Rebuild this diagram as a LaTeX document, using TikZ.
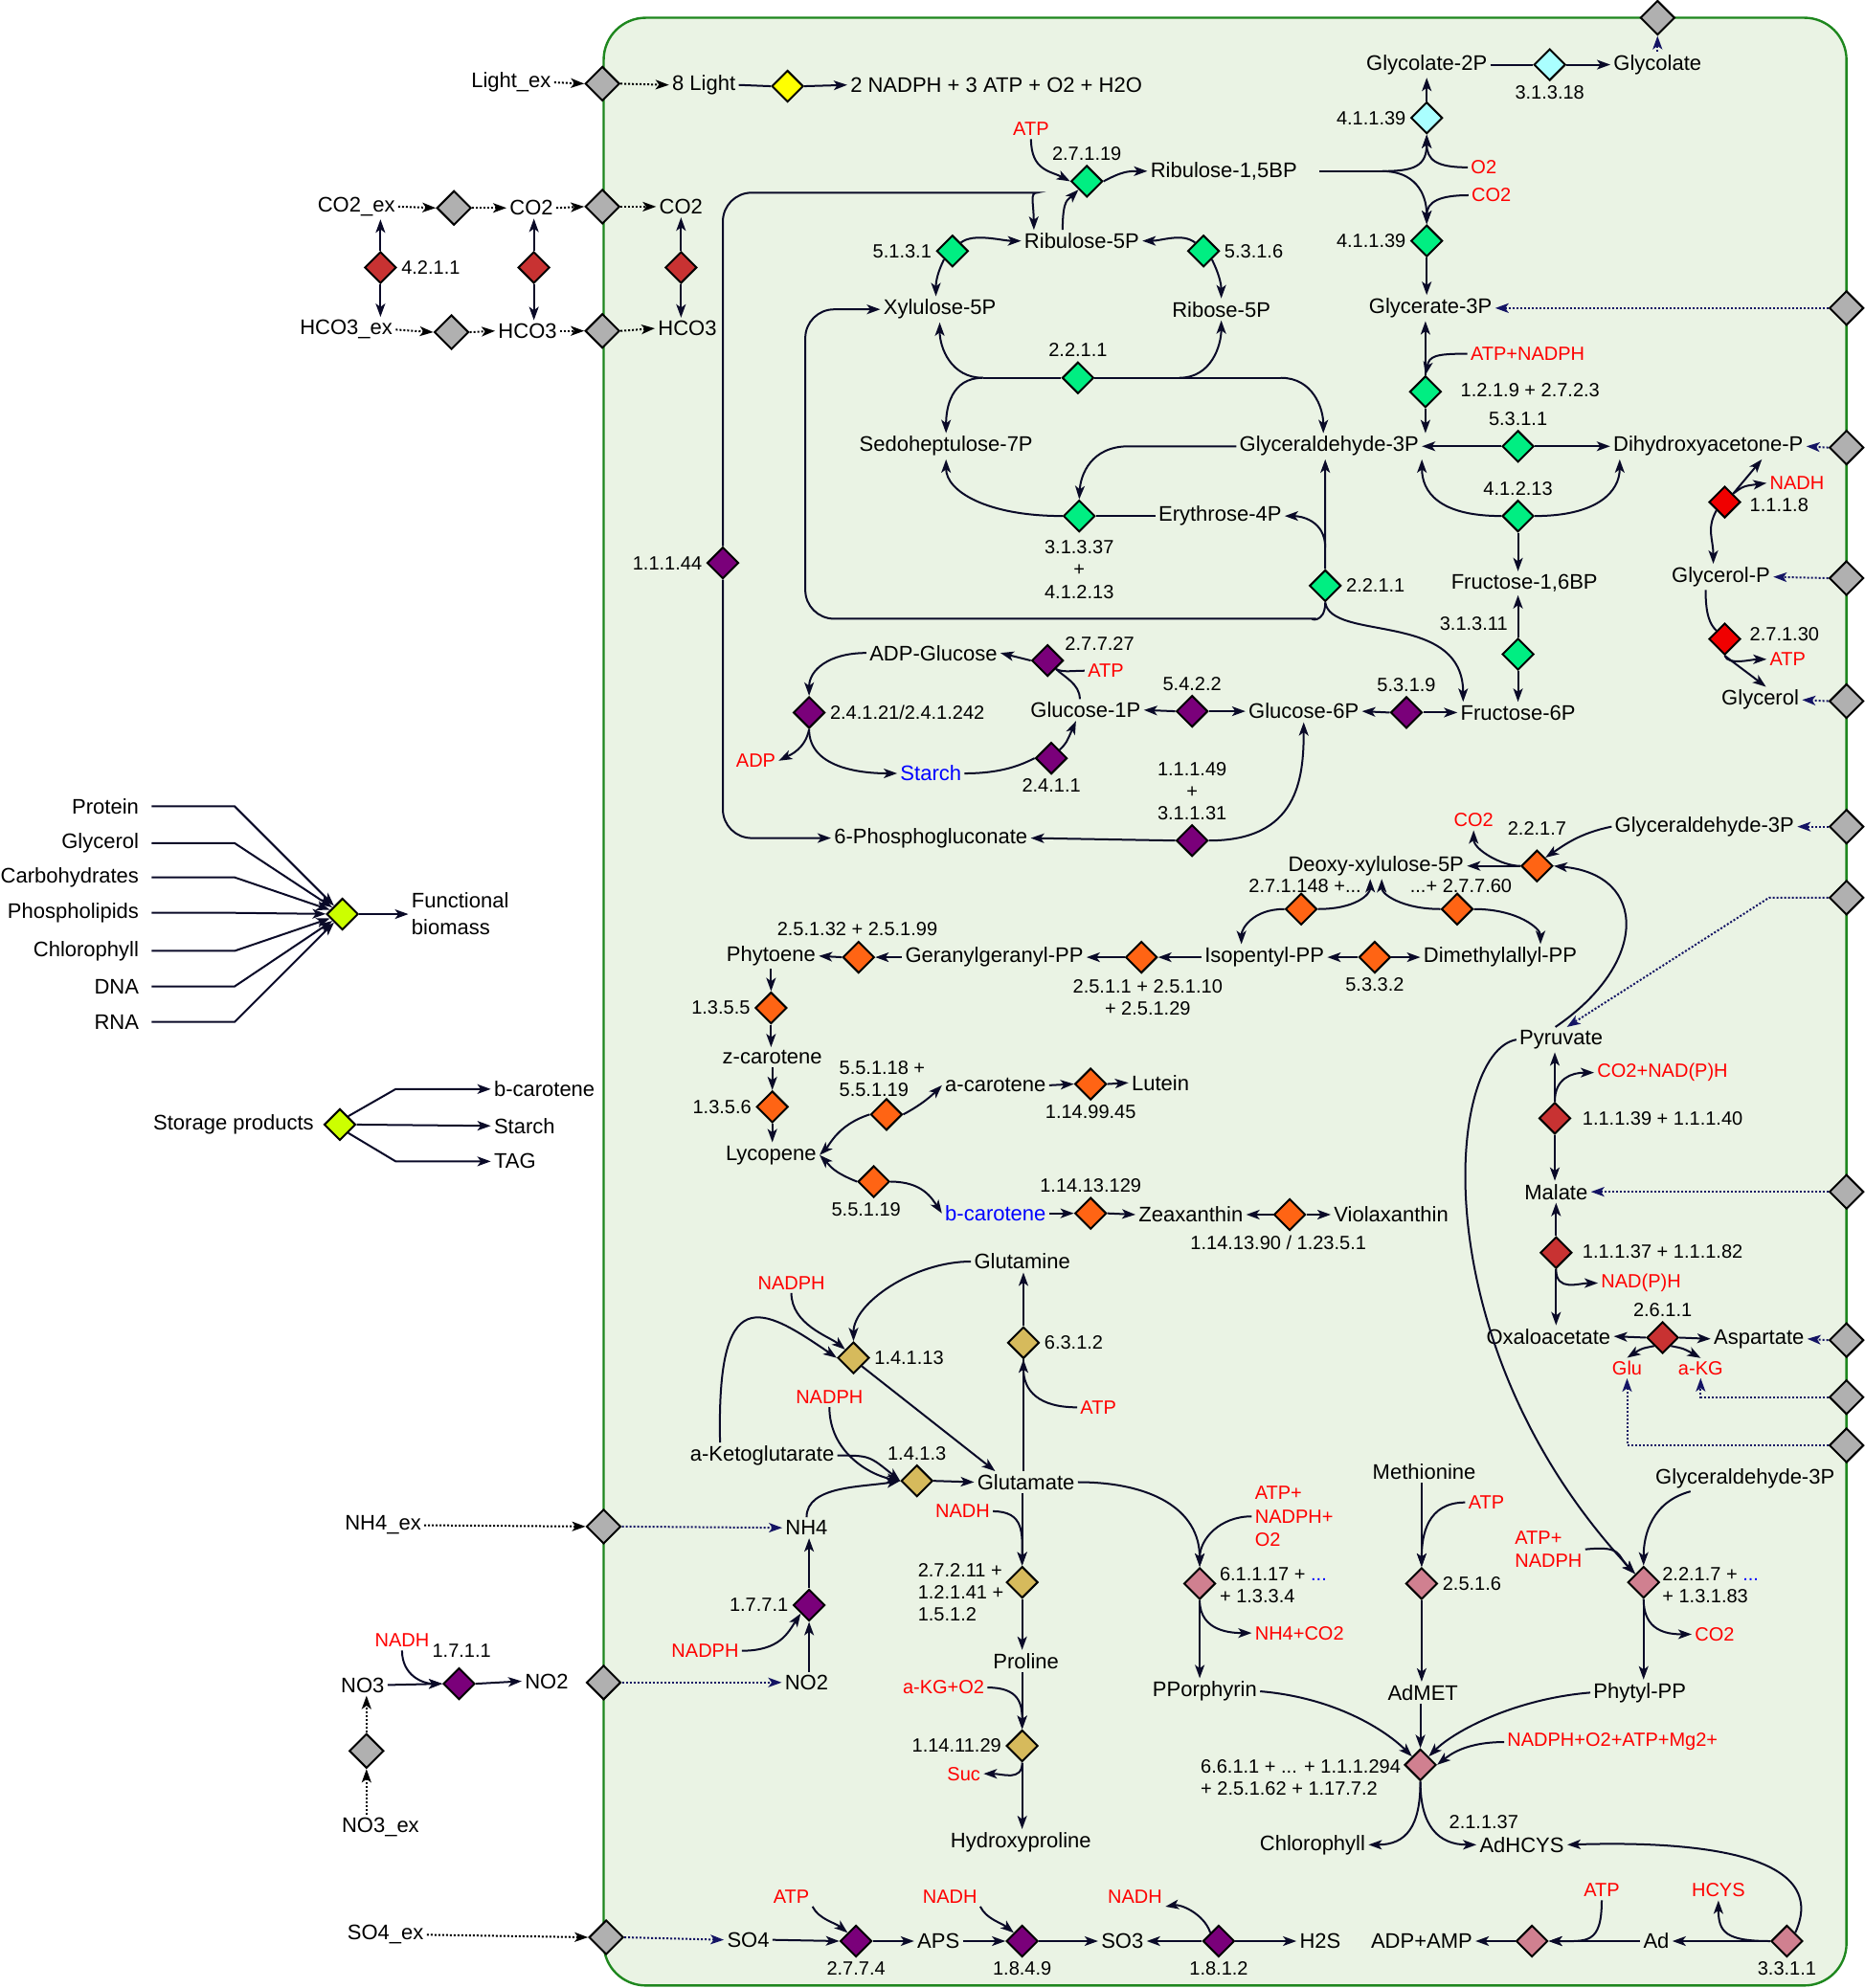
\documentclass[tikz,border=0pt]{standalone}
\usepackage{fontspec}
\setmainfont{Liberation Sans}
\usetikzlibrary{shapes.geometric, arrows.meta, positioning}

\definecolor{boxgreen}{RGB}{30,135,30}
\definecolor{boxfill}{RGB}{234,243,228}
\definecolor{exgray}{RGB}{176,176,176}
\definecolor{lightyel}{RGB}{255,255,0}
\definecolor{carbred}{RGB}{200,50,50}
\definecolor{glyred}{RGB}{240,0,0}
\definecolor{rubcyan}{RGB}{170,255,255}
\definecolor{calvgreen}{RGB}{0,238,130}
\definecolor{starchpur}{RGB}{122,0,122}
\definecolor{isoorange}{RGB}{255,100,20}
\definecolor{nitrotan}{RGB}{214,186,92}
\definecolor{porpink}{RGB}{208,128,144}
\definecolor{biolime}{RGB}{204,255,0}
\definecolor{cofred}{RGB}{255,0,0}
\definecolor{stoblue}{RGB}{0,0,255}
\definecolor{dotblue}{RGB}{20,20,100}
\definecolor{lineblk}{RGB}{10,10,40}

\newcommand{\metfont}{\fontsize{11}{13}\selectfont}
\newcommand{\ecfont}{\fontsize{10}{11.5}\selectfont}

\tikzset{
  met/.style={inner sep=1.5pt, font=\metfont},
  cof/.style={inner sep=1.5pt, text=cofred, font=\ecfont, align=left},
  ec/.style={inner sep=1pt, font=\ecfont, align=center},
  rxn/.style={diamond, draw=black, line width=1pt, fill=#1, inner sep=0pt, minimum width=16.5pt, minimum height=16.5pt},
  exch/.style={rxn=exgray, minimum width=18pt, minimum height=18pt},
  link/.style={line width=1pt, draw=lineblk},
  flux/.style={link, -{Stealth[length=7pt,width=5pt,inset=1.8pt]}},
  trans/.style={line width=1pt, draw=dotblue, densely dotted, -{Stealth[length=7pt,width=5pt,inset=1.8pt]}},
  uptake/.style={trans, draw=black},
}

\begin{document}
\begin{tikzpicture}[x=0.6622pt, y=-0.6622pt]
\useasboundingbox (0,0) rectangle (1470,1568);
% chloroplast compartment
\draw[draw=boxgreen, fill=boxfill, line width=1.2pt, rounded corners=22pt] (476,14) rectangle (1456,1566);

% light reactions
\node[met, anchor=east] (Lightex) at (437,65) {Light\_ex};
\node[exch] (xLight) at (475,66) {};
\node[met] (Light) at (555,67) {8 Light};
\node[rxn=lightyel] (dPS) at (621,68) {};
\node[met, anchor=west] (PSprod) at (668,67) {2 NADPH + 3 ATP + O2 + H2O};
\draw[uptake] (Lightex.east) -- (xLight.west);
\draw[uptake] (xLight.east) -- (Light.west);
\draw[link] (Light.east) -- (dPS.west);
\draw[flux] (dPS.east) -- (PSprod.west);

% carbon uptake
\node[met] (CO2ex) at (281,163) {CO2\_ex};
\node[exch] (xCO2a) at (358,164) {};
\node[met] (CO2c) at (419,164) {CO2};
\node[exch] (xCO2b) at (475,163) {};
\node[met] (CO2p) at (537,163) {CO2};
\node[met] (HCOex) at (273,260) {HCO3\_ex};
\node[exch] (xHCOa) at (356,262) {};
\node[met] (HCOc) at (416,261) {HCO3};
\node[exch] (xHCOb) at (475,261) {};
\node[met] (HCOp) at (542,259) {HCO3};
\node[rxn=carbred] (dCAa) at (300,211) {};
\node[ec, right=1pt of dCAa] {4.2.1.1};
\node[rxn=carbred] (dCAb) at (421,211) {};
\node[rxn=carbred] (dCAc) at (537,211) {};
\draw[uptake] (CO2ex.east) -- (xCO2a.west);
\draw[uptake] (xCO2a.east) -- (CO2c.west);
\draw[uptake] (CO2c.east) -- (xCO2b.west);
\draw[uptake] (xCO2b.east) -- (CO2p.west);
\draw[uptake] (HCOex.east) -- (xHCOa.west);
\draw[uptake] (xHCOa.east) -- (HCOc.west);
\draw[uptake] (HCOc.east) -- (xHCOb.west);
\draw[uptake] (xHCOb.east) -- (HCOp.west);
\foreach \d/\a/\b in {dCAa/CO2ex/HCOex, dCAb/CO2c/HCOc, dCAc/CO2p/HCOp} {
  \draw[flux] (\d.north) -- (\d |- \a.south);
  \draw[flux] (\d.south) -- (\d |- \b.north);
}

% photorespiration and carboxylation
\node[met] (G2P) at (1125,51) {Glycolate-2P};
\node[rxn=rubcyan] (dPGP) at (1222,51) {};
\node[ec, below=1pt of dPGP] {3.1.3.18};
\node[met] (Glyc) at (1307,51) {Glycolate};
\node[exch] (xGlyc) at (1307,14) {};
\draw[link] (G2P.east) -- (dPGP.west);
\draw[flux] (dPGP.east) -- (Glyc.west);
\draw[trans] (Glyc.north) -- (xGlyc.south);
\node[rxn=rubcyan] (dRBO) at (1125,93) {};
\node[ec, left=1pt of dRBO] {4.1.1.39};
\node[cof] (O2a) at (1170,132) {O2};
\node[met] (RuBP) at (965,135) {Ribulose-1,5BP};
\coordinate (rbSplit) at (1090,135);
\node[cof] (CO2a) at (1176,154) {CO2};
\node[rxn=calvgreen] (dRBC) at (1125,190) {};
\node[ec, left=1pt of dRBC] {4.1.1.39};
\node[met] (G3Pa) at (1128,243) {Glycerate-3P};
\node[exch] (xG3Pa) at (1456,243) {};
\draw[flux] (dRBO.north) -- (dRBO |- G2P.south);
\draw[link] ([xshift=10pt]RuBP.east) -- (rbSplit);
\draw[flux] (rbSplit) .. controls +(25,0) and +(0,25) .. (dRBO.south);
\draw[flux] (rbSplit) .. controls +(25,0) and +(0,-25) .. (dRBC.north);
\draw[flux] (O2a.west) .. controls +(-25,0) and +(0,20) .. (dRBO.south);
\draw[flux] (CO2a.west) .. controls +(-22,0) and +(0,-18) .. (dRBC.north);
\draw[flux] (dRBC.south) -- (dRBC |- G3Pa.north);
\draw[trans] (xG3Pa.west) -- (G3Pa.east);

% reduction phase
\node[rxn=calvgreen] (dGAPDH) at (1124,309) {};
\node[ec, anchor=west] at (1150,308) {1.2.1.9 + 2.7.2.3};
\node[cof, anchor=west] (cofGAPDH) at (1157,279) {ATP+NADPH};
\node[met] (GAP) at (1048,352) {Glyceraldehyde-3P};
\draw[flux] (dGAPDH.north) -- (dGAPDH |- G3Pa.south);
\draw[flux] (dGAPDH.south) -- (dGAPDH |- GAP.north);
\draw[flux] (cofGAPDH.west) .. controls +(-25,0) and +(3,-15) .. (dGAPDH.north);
\node[rxn=calvgreen] (dTPI) at (1197,352) {};
\node[ec, above=1pt of dTPI] {5.3.1.1};
\node[met] (DHAP) at (1347,352) {Dihydroxyacetone-P};
\node[exch] (xDHAP) at (1456,353) {};
\draw[flux] (dTPI.west) -- (GAP.east);
\draw[flux] (dTPI.east) -- (DHAP.west);
\draw[trans] (xDHAP.west) -- (DHAP.east);
\node[rxn=calvgreen] (dALD) at (1197,407) {};
\node[ec, above=1pt of dALD] {4.1.2.13};
\node[met] (FBP) at (1202,460) {Fructose-1,6BP};
\draw[flux] (dALD.west) .. controls +(-50,0) and +(0,25) .. (GAP.south east);
\draw[flux] (dALD.east) .. controls +(50,0) and +(0,25) .. ([xshift=5pt]DHAP.south west);
\draw[flux] (dALD.south) -- (dALD |- FBP.north);
\node[rxn=calvgreen] (dFBP) at (1197,516) {};
\node[ec] at (1162,492) {3.1.3.11};
\node[met] (F6P) at (1197,562) {Fructose-6P};
\draw[flux] (dFBP.north) -- (dFBP |- FBP.south);
\draw[flux] (dFBP.south) -- (dFBP |- F6P.north);

% glycerol branch
\node[rxn=glyred] (dG3PDH) at (1360,396) {};
\node[ec, anchor=west] at (1378,398) {1.1.1.8};
\node[cof, anchor=west] (NADHg) at (1393,381) {NADH};
\node[met] (GolP) at (1357,455) {Glycerol-P};
\node[exch] (xGolP) at (1456,456) {};
\node[rxn=glyred] (dGK) at (1360,504) {};
\node[ec, anchor=west] at (1378,500) {2.7.1.30};
\node[cof, anchor=west] (ATPgk) at (1393,520) {ATP};
\node[met] (Glyl) at (1388,552) {Glycerol};
\node[exch] (xGlyl) at (1456,553) {};
\draw[flux] (dG3PDH.north east) -- ([xshift=28pt]DHAP.south);
\draw[flux] (dG3PDH.north east) .. controls +(8,-6) .. (NADHg.west);
\draw[flux] (dG3PDH.south west) .. controls +(-8,15) and +(0,-20) .. ([xshift=-4pt]GolP.north);
\draw[trans] (xGolP.west) -- (GolP.east);
\draw[link] ([xshift=-8pt]GolP.south) .. controls +(0,20) and +(-5,-5) .. (dGK.north west);
\draw[flux] (dGK.south) .. controls +(3,8) and +(-12,0) .. (ATPgk.west);
\draw[flux] (dGK.south) -- ([xshift=3pt]Glyl.north);
\draw[trans] (xGlyl.west) -- (Glyl.east);

% regeneration phase
\node[cof] (ATPa) at (813,102) {ATP};
\node[rxn=calvgreen] (dPRK) at (857,143) {};
\node[ec, above=1pt of dPRK] {2.7.1.19};
\node[met] (Ru5P) at (853,190) {Ribulose-5P};
\draw[flux] (ATPa.south) .. controls +(0,25) and +(-15,-8) .. (dPRK.west);
\draw[flux] ([xshift=-10pt]Ru5P.north) .. controls +(0,-25) and +(-8,8) .. (dPRK.south west);
\draw[flux] (dPRK.east) .. controls +(15,-8) and +(-15,0) .. (RuBP.west);
\node[rxn=calvgreen] (dRPE) at (751,198) {};
\node[ec, left=1pt of dRPE] {5.1.3.1};
\node[rxn=calvgreen] (dRPI) at (949,198) {};
\node[ec, right=1pt of dRPI] {5.3.1.6};
\node[met] (Xu5P) at (741,244) {Xylulose-5P};
\node[met] (R5P) at (963,244) {Ribose-5P};
\draw[flux] (dRPE.north east) .. controls +(10,-8) and +(-15,0) .. (Ru5P.west);
\draw[flux] (dRPE.south west) .. controls +(-5,10) and +(0,-12) .. ([xshift=-2pt]Xu5P.north);
\draw[flux] (dRPI.north west) .. controls +(-10,-8) and +(15,0) .. (Ru5P.east);
\draw[flux] (dRPI.south east) .. controls +(5,10) and +(0,-12) .. (R5P.north);
\node[rxn=calvgreen] (dTKa) at (850,298) {};
\node[ec, above=1pt of dTKa] {2.2.1.1};
\coordinate (tkL) at (775,298);
\coordinate (tkM) at (930,298);
\coordinate (tkR) at (1010,298);
\node[met] (S7P) at (746,352) {Sedoheptulose-7P};
\draw[link] (tkL) -- (dTKa.west);
\draw[link] (dTKa.east) -- (tkR);
\draw[flux] (tkL) .. controls +(-25,0) and +(0,20) .. (Xu5P.south);
\draw[flux] (tkL) .. controls +(-25,0) and +(0,-20) .. (S7P.north);
\draw[flux] (tkM) .. controls +(25,0) and +(0,20) .. (R5P.south);
\draw[flux] (tkR) .. controls +(25,0) and +(0,-20) .. ([xshift=-3pt]GAP.north);
\node[rxn=calvgreen] (dSBP) at (851,407) {};
\node[ec, below=3pt of dSBP] {3.1.3.37\\+\\4.1.2.13};
\node[met] (E4P) at (962,407) {Erythrose-4P};
\draw[flux] (GAP.west) -- (890,352) .. controls (860,352) and (852,375) .. (dSBP.north);
\draw[flux] (dSBP.west) .. controls +(-60,0) and +(0,25) .. (S7P.south);
\draw[link] (dSBP.east) -- (E4P.west);
\node[rxn=calvgreen] (dTKb) at (1045,462) {};
\node[ec, right=1pt of dTKb] {2.2.1.1};
\coordinate (tkUp) at (1045,432);
\draw[flux] (dTKb.north) -- ([xshift=-2pt]GAP.south);
\draw[flux] (tkUp) .. controls +(0,-22) and +(12,0) .. (E4P.east);
\draw[flux, rounded corners=15pt] (dTKb.south) .. controls +(0,18) and +(15,0) .. (1015,488) -| (635,300) |- (Xu5P.west);
\draw[flux] (dTKb.south) .. controls +(5,31) and +(0,-72) .. ([xshift=3pt]F6P.north west);

% oxidative shunt
\node[rxn=starchpur] (dOPP) at (570,444) {};
\node[ec, left=1pt of dOPP] {1.1.1.44};
\node[met] (PGlc) at (734,661) {6-Phosphogluconate};
\draw[flux, rounded corners=15pt] (dOPP.north) |- (795,152) .. controls (812,152) and (815,160) .. ([xshift=-25pt]Ru5P.north);
\draw[flux, rounded corners=15pt] (dOPP.south) |- (PGlc.west);

% starch metabolism
\node[met] (ADPG) at (736,515) {ADP-Glucose};
\node[rxn=starchpur] (dAGP) at (826,521) {};
\node[ec, anchor=west] at (838,508) {2.7.7.27};
\node[cof] (ATPagp) at (872,529) {ATP};
\node[met] (G1P) at (856,560) {Glucose-1P};
\node[rxn=starchpur] (dPGM) at (940,561) {};
\node[ec, above=1pt of dPGM] {5.4.2.2};
\node[met] (G6P) at (1028,561) {Glucose-6P};
\node[rxn=starchpur] (dPGI) at (1109,562) {};
\node[ec, above=1pt of dPGI] {5.3.1.9};
\node[rxn=starchpur] (dSS) at (638,562) {};
\node[ec, right=1pt of dSS] {2.4.1.21/2.4.1.242};
\node[cof] (ADP) at (596,600) {ADP};
\node[met, text=stoblue] (Starch) at (734,610) {Starch};
\node[rxn=starchpur] (dSP) at (829,598) {};
\node[ec, below=1pt of dSP] {2.4.1.1};
\node[rxn=starchpur] (dG6PDH) at (940,663) {};
\node[ec, above=1pt of dG6PDH] {1.1.1.49\\+\\3.1.1.31};
\draw[flux] (dAGP.west) -- (ADPG.east);
\draw[link] ([xshift=-3pt]G1P.north) .. controls +(0,-12) and +(6,6) .. (dAGP.south east);
\draw[link] (ATPagp.west) .. controls +(-10,0) and +(5,3) .. (dAGP.south east);
\draw[flux] (ADPG.west) .. controls +(-30,0) and +(0,-20) .. (dSS.north);
\draw[flux] (dSS.south) .. controls +(-3,15) and +(10,-5) .. (ADP.east);
\draw[flux] (dSS.south) .. controls +(0,30) and +(-30,0) .. (Starch.west);
\draw[link] (Starch.east) .. controls +(30,0) and +(-10,5) .. (dSP.west);
\draw[flux] (dSP.north east) .. controls +(5,-5) .. ([xshift=-5pt]G1P.south);
\draw[flux] (dPGM.west) -- (G1P.east);
\draw[flux] (dPGM.east) -- (G6P.west);
\draw[flux] (dPGI.west) -- (G6P.east);
\draw[flux] (dPGI.east) -- (F6P.west);
\draw[flux] (dG6PDH.west) -- (PGlc.east);
\draw[flux] (dG6PDH.east) .. controls +(70,0) and +(0,45) .. (G6P.south);

% MEP pathway and carotenoids
\node[met] (GAPb) at (1344,652) {Glyceraldehyde-3P};
\node[exch] (xGAPb) at (1456,652) {};
\node[rxn=isoorange] (dDXS) at (1212,683) {};
\node[ec, above=6pt of dDXS] {2.2.1.7};
\node[cof] (CO2dxs) at (1162,647) {CO2};
\node[met] (DXP) at (1085,683) {Deoxy-xylulose-5P};
\node[exch] (xPyr) at (1456,708) {};
\coordinate (pyBend) at (1395,708);
\node[met] (Pyr) at (1231,820) {Pyruvate};
\draw[trans] (xGAPb.west) -- (GAPb.east);
\draw[flux] (GAPb.west) .. controls +(-25,5) and +(15,-10) .. (dDXS.north east);
\draw[flux] (dDXS.west) -- (DXP.east);
\draw[flux] (dDXS.west) .. controls +(-15,0) and +(0,15) .. (CO2dxs.south);
\draw[flux] ([xshift=-3pt]Pyr.north) .. controls (1300,760) and (1300,690) .. (dDXS.east);
\draw[trans] (xPyr.west) -- (pyBend) -- ([xshift=3pt]Pyr.north);
\node[rxn=isoorange] (dMEP1) at (1026,717) {};
\node[ec] at (1029,699) {2.7.1.148 +...};
\node[rxn=isoorange] (dMEP2) at (1149,717) {};
\node[ec] at (1152,699) {...+ 2.7.7.60};
\node[met] (IPP) at (997,755) {Isopentyl-PP};
\node[met] (DMAPP) at (1183,755) {Dimethylallyl-PP};
\node[rxn=isoorange] (dIDI) at (1084,755) {};
\node[ec, below=1pt of dIDI] {5.3.3.2};
\draw[flux] (dMEP1.east) .. controls +(30,0) and +(0,12) .. ([xshift=-3pt]DXP.south);
\draw[flux] (dMEP2.west) .. controls +(-30,0) and +(0,12) .. ([xshift=3pt]DXP.south);
\draw[flux] (dMEP1.west) .. controls +(-25,0) and +(0,-12) .. ([xshift=-12pt]IPP.north);
\draw[flux] (dMEP2.east) .. controls +(35,0) and +(0,-12) .. ([xshift=21pt]DMAPP.north);
\draw[flux] (dIDI.west) -- (IPP.east);
\draw[flux] (dIDI.east) -- (DMAPP.west);
\node[rxn=isoorange] (dGGPS) at (900,755) {};
\node[ec] at (905,787) {2.5.1.1 + 2.5.1.10\\+ 2.5.1.29};
\node[met] (GGPP) at (784,755) {Geranylgeranyl-PP};
\node[rxn=isoorange] (dPSY) at (677,755) {};
\node[ec] at (676,733) {2.5.1.32 + 2.5.1.99};
\node[met] (Phyt) at (608,754) {Phytoene};
\draw[flux] (IPP.west) -- (dGGPS.east);
\draw[flux] (dGGPS.west) -- (GGPP.east);
\draw[flux] (GGPP.west) -- (dPSY.east);
\draw[flux] (dPSY.west) -- (Phyt.east);
\node[rxn=isoorange] (dPDS) at (608,795) {};
\node[ec, left=1pt of dPDS] {1.3.5.5};
\node[met] (zcar) at (609,834) {z-carotene};
\node[rxn=isoorange] (dZDS) at (609,873) {};
\node[ec, left=1pt of dZDS] {1.3.5.6};
\node[met] (Lyco) at (608,911) {Lycopene};
\draw[flux] (Phyt.south) -- (dPDS.north);
\draw[flux] (dPDS.south) -- (dPDS |- zcar.north);
\draw[flux] (dZDS |- zcar.south) -- (dZDS.north);
\draw[flux] (dZDS.south) -- (dZDS |- Lyco.north);
\node[rxn=isoorange] (dLCYE) at (699,879) {};
\node[ec, anchor=west, align=left] at (660,851) {5.5.1.18 +\\5.5.1.19};
\node[met] (acar) at (785,856) {a-carotene};
\node[rxn=isoorange] (dLUT) at (860,855) {};
\node[ec, below=1pt of dLUT] {1.14.99.45};
\node[met] (Lut) at (915,854) {Lutein};
\node[rxn=isoorange] (dLCYB) at (689,932) {};
\node[ec] at (683,954) {5.5.1.19};
\node[met, text=stoblue] (bcar) at (785,957) {b-carotene};
\node[rxn=isoorange] (dZEA) at (860,957) {};
\node[ec, above=1pt of dZEA] {1.14.13.129};
\node[met] (Zea) at (939,958) {Zeaxanthin};
\node[rxn=isoorange] (dVDE) at (1017,958) {};
\node[ec] at (1008,980) {1.14.13.90 / 1.23.5.1};
\node[met] (Viola) at (1097,958) {Violaxanthin};
\draw[flux] (dLCYE.west) .. controls +(-25,8) and +(8,-8) .. (Lyco.east);
\draw[flux] (dLCYE.east) .. controls +(15,-8) and +(-8,8) .. (acar.west);
\draw[flux] (acar.east) -- (dLUT.west);
\draw[flux] (dLUT.east) -- (Lut.west);
\draw[flux] (dLCYB.west) .. controls +(-20,-8) and +(8,8) .. (Lyco.east);
\draw[flux] (dLCYB.east) .. controls +(25,0) and +(-8,-12) .. (bcar.west);
\draw[flux] (bcar.east) -- (dZEA.west);
\draw[flux] (dZEA.east) -- (Zea.west);
\draw[flux] (dVDE.west) -- (Zea.east);
\draw[flux] (dVDE.east) -- (Viola.west);

% pyruvate, malate, aspartate
\node[rxn=carbred] (dME) at (1226,882) {};
\node[ec, anchor=west] at (1246,882) {1.1.1.39 + 1.1.1.40};
\node[cof, anchor=west] (CO2NADPH) at (1257,846) {CO2+NAD(P)H};
\node[met] (Mal) at (1227,940) {Malate};
\node[exch] (xMal) at (1456,940) {};
\node[rxn=carbred] (dMDH) at (1227,988) {};
\node[ec, anchor=west] at (1246,987) {1.1.1.37 + 1.1.1.82};
\node[cof, anchor=west] (NADPHm) at (1260,1012) {NAD(P)H};
\node[met] (OAA) at (1221,1054) {Oxaloacetate};
\node[rxn=carbred] (dAAT) at (1311,1055) {};
\node[ec, above=1pt of dAAT] {2.6.1.1};
\node[met] (Asp) at (1387,1056) {Aspartate};
\node[exch] (xAsp) at (1456,1057) {};
\node[cof] (Glu) at (1283,1079) {Glu};
\node[cof] (aKG) at (1341,1079) {a-KG};
\node[exch] (xaKG) at (1456,1102) {};
\node[exch] (xGlu) at (1456,1140) {};
\draw[flux] (dME.north) -- (dME |- Pyr.south);
\draw[flux] (dME.south) -- (dME |- Mal.north);
\draw[flux] (dME.north) .. controls +(0,-18) and +(-18,0) .. (CO2NADPH.west);
\draw[trans] (xMal.west) -- (Mal.east);
\draw[flux] (dMDH.north) -- (dMDH |- Mal.south);
\draw[flux] (dMDH.south) -- (dMDH |- OAA.north);
\draw[flux] (dMDH.south) .. controls +(0,18) and +(-15,0) .. (NADPHm.west);
\draw[flux] (dAAT.west) -- (OAA.east);
\draw[flux] (dAAT.east) -- (Asp.west);
\draw[flux] (dAAT.south west) .. controls +(-10,2) .. (Glu.north);
\draw[flux] (dAAT.south east) .. controls +(10,2) .. (aKG.north);
\draw[trans] (xAsp.west) -- (Asp.east);
\draw[trans] (xaKG.west) -| (aKG.south);
\draw[trans] (xGlu.west) -| (Glu.south);

% nitrogen assimilation
\node[met] (Gln) at (806,995) {Glutamine};
\node[rxn=nitrotan] (dGOGAT) at (673,1071) {};
\node[ec, right=1pt of dGOGAT] {1.4.1.13};
\node[cof] (NADPHg) at (624,1012) {NADPH};
\node[met] (aKGm) at (601,1148) {a-Ketoglutarate};
\node[rxn=nitrotan] (dGS) at (807,1059) {};
\node[ec, right=1pt of dGS] {6.3.1.2};
\node[cof] (ATPgs) at (866,1110) {ATP};
\node[rxn=nitrotan] (dGDH) at (723,1168) {};
\node[ec, above=1pt of dGDH] {1.4.1.3};
\node[cof] (NADPHd) at (654,1102) {NADPH};
\node[met] (Glut) at (809,1169) {Glutamate};
\node[met] (NH4) at (636,1205) {NH4};
\node[met] (NH4ex) at (302,1203) {NH4\_ex};
\node[exch] (xNH4) at (476,1204) {};
\draw[flux] (Gln.west) .. controls +(-45,0) and +(0,-30) .. (dGOGAT.north);
\draw[flux] (NADPHg.south) .. controls +(0,25) and +(-12,-10) .. (dGOGAT.north west);
\draw[flux] ([xshift=-22pt]aKGm.north) .. controls (565,1010) and (600,1030) .. (dGOGAT.west);
\draw[flux] (dGOGAT.south east) -- ([xshift=11pt]Glut.north west);
\draw[link] (dGS |- Glut.north) -- (dGS.south);
\draw[flux] (dGS.north) -- (dGS |- Gln.south);
\draw[flux] (ATPgs.west) .. controls +(-30,0) and +(0,25) .. (dGS.south);
\draw[flux] (NADPHd.south) .. controls +(0,35) and +(-25,-5) .. (dGDH.west);
\draw[flux] (aKGm.east) .. controls +(25,0) .. (dGDH.west);
\draw[flux] (NH4.north) .. controls +(0,-25) and +(-30,5) .. (dGDH.west);
\draw[flux] (dGDH.east) -- (Glut.west);
\draw[uptake] (NH4ex.east) -- (xNH4.west);
\draw[trans] (xNH4.east) -- (NH4.west);
\node[rxn=starchpur] (dNiR) at (638,1266) {};
\node[ec, left=1pt of dNiR] {1.7.7.1};
\node[cof] (NADPHn) at (556,1302) {NADPH};
\node[met] (NO2) at (636,1327) {NO2};
\node[exch] (xNO2) at (476,1327) {};
\node[met] (NO2o) at (431,1326) {NO2};
\node[met] (NO3) at (286,1329) {NO3};
\node[rxn=starchpur] (dNR) at (362,1328) {};
\node[ec] at (364,1302) {1.7.1.1};
\node[cof] (NADHn) at (317,1294) {NADH};
\node[exch] (xNO3) at (289,1381) {};
\node[met] (NO3ex) at (300,1441) {NO3\_ex};
\draw[flux] (dNiR.north) -- (dNiR |- NH4.south);
\draw[flux] (dNiR |- NO2.north) -- (dNiR.south);
\draw[flux] (NADPHn.east) .. controls +(30,0) and +(-10,15) .. (dNiR.south west);
\draw[trans] (xNO2.east) -- (NO2.west);
\draw[flux] (NO3.east) -- (dNR.west);
\draw[flux] (dNR.east) -- (NO2o.west);
\draw[flux] (NADHn.south) .. controls +(0,20) and +(-15,0) .. (dNR.west);
\draw[uptake] (xNO3 |- NO3ex.north) -- (xNO3.south);
\draw[uptake] (xNO3.north) -- (xNO3 |- NO3.south);

% proline
\node[cof] (NADHp) at (759,1192) {NADH};
\node[rxn=nitrotan] (dP5CS) at (806,1248) {};
\node[ec, anchor=west, align=left] at (722,1256) {2.7.2.11 +\\1.2.1.41 +\\1.5.1.2};
\node[met] (Pro) at (809,1310) {Proline};
\node[cof] (aKGO2) at (744,1331) {a-KG+O2};
\node[rxn=nitrotan] (dP4H) at (806,1377) {};
\node[ec, left=1pt of dP4H] {1.14.11.29};
\node[cof] (Suc) at (760,1399) {Suc};
\node[met] (Hyp) at (805,1453) {Hydroxyproline};
\draw[flux] (dP5CS |- Glut.south) -- (dP5CS.north);
\draw[flux] (NADHp.east) .. controls +(25,0) and +(0,-25) .. (dP5CS.north);
\draw[flux] (dP5CS.south) -- (dP5CS |- Pro.north);
\draw[flux] (dP4H |- Pro.south) -- (dP4H.north);
\draw[flux] (aKGO2.east) .. controls +(25,0) and +(0,-20) .. (dP4H.north);
\draw[flux] (dP4H.south) -- (dP4H |- Hyp.north);
\draw[flux] (dP4H.south) .. controls +(0,15) and +(15,0) .. (Suc.east);

% porphyrin, SAM and phytol
\node[rxn=porpink] (dPor) at (946,1249) {};
\node[ec, anchor=west, align=left] at (960,1250) {6.1.1.17 + \textcolor{stoblue}{...}\\+ 1.3.3.4};
\node[cof, anchor=west, font=\fontsize{10}{12.3}\selectfont] (cofPor) at (987,1196) {ATP+\\NADPH+\\O2};
\node[cof, anchor=west] (NH4CO2) at (987,1288) {NH4+CO2};
\node[met] (PPor) at (950,1334) {PPorphyrin};
\draw[flux] (Glut.east) .. controls +(57,0) and +(0,-46) .. (dPor.north);
\draw[flux] (cofPor.west) .. controls +(-25,0) and +(0,-22) .. (dPor.north);
\draw[flux] (dPor.south) .. controls +(0,25) and +(-15,0) .. (NH4CO2.west);
\draw[flux] (dPor.south) -- (dPor |- PPor.north);
\node[met] (Met) at (1123,1161) {Methionine};
\node[cof] (ATPmat) at (1172,1185) {ATP};
\node[rxn=porpink] (dMAT) at (1121,1249) {};
\node[ec, right=1pt of dMAT] {2.5.1.6};
\node[met] (AdMET) at (1122,1335) {AdMET};
\draw[flux] (dMAT |- Met.south) -- (dMAT.north);
\draw[flux] (ATPmat.west) .. controls +(-30,0) and +(0,-25) .. (dMAT.north);
\draw[flux] (dMAT.south) -- (dMAT |- AdMET.north);
\node[met] (GAPc) at (1376,1166) {Glyceraldehyde-3P};
\node[cof, anchor=west, font=\fontsize{10}{12.3}\selectfont] (cofPhy) at (1192,1222) {ATP+\\NADPH};
\node[rxn=porpink] (dPhy) at (1296,1248) {};
\node[ec, anchor=west, align=left] at (1309,1250) {2.2.1.7 + \textcolor{stoblue}{...}\\+ 1.3.1.83};
\node[cof] (CO2phy) at (1352,1289) {CO2};
\node[met] (PhyPP) at (1293,1335) {Phytyl-PP};
\draw[flux] ([xshift=20pt]GAPc.south west) .. controls +(-30,8) and +(0,-25) .. (dPhy.north);
\draw[flux] (cofPhy.east) .. controls +(30,-3) and +(-15,-15) .. (dPhy.north west);
\draw[flux] (Pyr.west) .. controls (1140,830) and (1120,1060) .. (dPhy.north west);
\draw[flux] (dPhy.south) .. controls +(0,25) and +(-20,0) .. (CO2phy.west);
\draw[flux] (dPhy.south) -- (dPhy |- PhyPP.north);

% chlorophyll synthesis
\node[rxn=porpink] (dChl) at (1120,1392) {};
\node[ec, anchor=west, align=left] at (945,1402) {6.6.1.1 + ... + 1.1.1.294\\+ 2.5.1.62 + 1.17.7.2};
\node[cof, anchor=west] (cofChl) at (1186,1374) {NADPH+O2+ATP+Mg2+};
\node[met] (Chl) at (1035,1455) {Chlorophyll};
\node[met] (AdHCY) at (1200,1455) {AdHCYS};
\node[ec] at (1170,1437) {2.1.1.37};
\draw[flux] (PPor.east) .. controls +(60,5) and +(-20,-20) .. (dChl.north west);
\draw[flux] (dChl |- AdMET.south) -- (dChl.north);
\draw[flux] (PhyPP.west) .. controls +(-60,5) and +(20,-20) .. (dChl.north east);
\draw[flux] (cofChl.west) .. controls +(-30,0) and +(10,-8) .. (dChl.east);
\draw[flux] (dChl.south) .. controls +(0,35) and +(30,0) .. (Chl.east);
\draw[flux] (dChl.south) .. controls +(0,35) and +(-30,0) .. (AdHCY.west);

% SAM recycling
\node[rxn=porpink] (dSAHH) at (1409,1531) {};
\node[ec, below=1pt of dSAHH] {3.3.1.1};
\node[cof] (HCYS) at (1355,1491) {HCYS};
\node[met] (Ad) at (1306,1531) {Ad};
\node[rxn=porpink] (dAK) at (1208,1531) {};
\node[cof] (ATPak) at (1263,1491) {ATP};
\node[met] (ADPAMP) at (1121,1531) {ADP+AMP};
\draw[flux] (dSAHH.north east) .. controls (1445,1460) and (1330,1452) .. (AdHCY.east);
\draw[flux] (dSAHH.west) -- (Ad.east);
\draw[flux] (dSAHH.west) .. controls +(-35,0) and +(0,25) .. (HCYS.south);
\draw[flux] (Ad.west) -- (dAK.east);
\draw[flux] (ATPak.south) .. controls +(0,35) and +(30,0) .. (dAK.east);
\draw[flux] (dAK.west) -- (ADPAMP.east);

% sulfur assimilation
\node[met] (SO4ex) at (304,1526) {SO4\_ex};
\node[exch] (xSO4) at (478,1528) {};
\node[met] (SO4) at (590,1530) {SO4};
\node[rxn=starchpur] (dATPS) at (675,1531) {};
\node[ec, below=1pt of dATPS] {2.7.7.4};
\node[cof] (ATPs) at (624,1496) {ATP};
\node[met] (APS) at (740,1531) {APS};
\node[rxn=starchpur] (dAPR) at (806,1531) {};
\node[ec, below=1pt of dAPR] {1.8.4.9};
\node[cof] (NADHs) at (749,1496) {NADH};
\node[met] (SO3) at (885,1531) {SO3};
\node[rxn=starchpur] (dSiR) at (961,1531) {};
\node[ec, below=1pt of dSiR] {1.8.1.2};
\node[cof] (NADHr) at (895,1496) {NADH};
\node[met] (H2S) at (1041,1531) {H2S};
\draw[uptake] (SO4ex.east) -- (xSO4.west);
\draw[trans] (xSO4.east) -- (SO4.west);
\draw[flux] (SO4.east) -- (dATPS.west);
\draw[flux] (ATPs.south east) .. controls +(5,10) and +(-10,-8) .. (dATPS.north west);
\draw[flux] (dATPS.east) -- (APS.west);
\draw[flux] (APS.east) -- (dAPR.west);
\draw[flux] (NADHs.south east) .. controls +(5,10) and +(-10,-8) .. (dAPR.north west);
\draw[flux] (dAPR.east) -- (SO3.west);
\draw[flux] (dSiR.west) -- (SO3.east);
\draw[flux] (dSiR.east) -- (H2S.west);
\draw[flux] (dSiR.north west) .. controls +(-5,-15) and +(12,-2) .. (NADHr.south east);

% biomass
\node[rxn=biolime] (dBio) at (270,721) {};
\node[met, anchor=west, align=left, font=\fontsize{11}{14}\selectfont] (FuncBio) at (322,721) {Functional\\biomass};
\draw[flux] (dBio.east) -- (FuncBio.west);
\foreach \comp/\yy in {Protein/636,Glycerol/665,Carbohydrates/692,Phospholipids/720,Chlorophyll/750,DNA/778,RNA/806} {
  \node[met, anchor=east] (bm\comp) at (112,\yy) {\comp};
  \draw[flux] ([xshift=5pt]bm\comp.east) -- (185,\yy) -- (dBio);
}
\node[met, anchor=east] (Storage) at (250,887) {Storage products};
\node[rxn=biolime] (dSto) at (268,887) {};
\node[met, anchor=west] (stoBcar) at (387,859) {b-carotene};
\node[met, anchor=west] (stoStarch) at (387,888) {Starch};
\node[met, anchor=west] (stoTAG) at (387,916) {TAG};
\draw[flux] (dSto.north east) -- (312,859) -- (stoBcar.west);
\draw[flux] (dSto.east) -- (stoStarch.west);
\draw[flux] (dSto.south east) -- (312,916) -- (stoTAG.west);
\end{tikzpicture}
\end{document}
